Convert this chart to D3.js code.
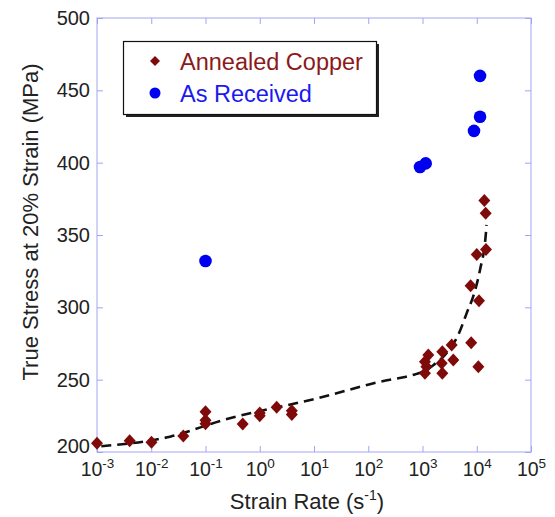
<!DOCTYPE html>
<html>
<head>
<meta charset="utf-8">
<script src="https://cdn.jsdelivr.net/npm/d3@7"></script>
<style>
  body { margin: 0; background: #fff; }
  svg { font-family: "Liberation Sans", Arial, sans-serif; }
</style>
</head>
<body>
<svg id="chart" width="555" height="517"></svg>
<script>
// annealed copper (diamonds)
var annealedRate = [0.001, 0.004, 0.0101, 0.039, 0.1, 0.1, 0.1, 0.485, 1.0, 1.0, 2.05, 3.9, 3.9,
  1110, 1280, 1110, 1180, 2320, 2260, 2320, 3450, 3700, 7900, 10700, 7700, 11000, 10000, 14800, 13800, 14600];
var annealedStress = [206, 207.8, 206.7, 211, 227.8, 222, 219.5, 219.4, 225, 227, 230.9, 228.5, 226,
  262.4, 267, 254.4, 259, 269.3, 261.3, 254.4, 274, 263.6, 275.5, 259, 315, 304.6, 336.6, 340, 373.8, 365];

// as received (circles)
var receivedRate = [0.1, 900, 1145, 8900, 11500, 11500];
var receivedStress = [332, 397, 399.5, 422, 431.7, 460];

// dashed trend line
var fitRate = [0.0012, 0.0222, 0.21, 11.2, 251, 500, 782, 1150, 1580, 2790, 4570, 6530, 9020, 11500, 14800, 15100];
var fitStress = [204, 210.6, 222, 237, 250, 252, 254, 256.5, 260, 268.5, 281, 296, 310, 326, 352, 357];

var xTicks = [1e-3, 1e-2, 1e-1, 1e0, 1e1, 1e2, 1e3, 1e4, 1e5];
var yTicks = [200, 250, 300, 350, 400, 450, 500];

var frameColor = "#a3a3f5";
var red = "#7f0a0a";
var blue = "#0000f0";

var svg = d3.select("#chart");
var pl = 97, pr = 531, pt = 18, pb = 452;

var x = d3.scaleLog().domain([1e-3, 1e5]).range([pl, pr]);
var y = d3.scaleLinear().domain([200, 500]).range([pb, pt]);

function styleAxis(g) {
	g.select(".domain").remove();
	g.selectAll(".tick line").attr("stroke", frameColor).attr("stroke-width", 1);
}

// frame
svg.append("rect")
	.attr("x", pl).attr("y", pt)
	.attr("width", pr - pl).attr("height", pb - pt)
	.attr("fill", "none").attr("stroke", frameColor).attr("stroke-width", 1);

// bottom axis with 10^n labels
var xb = svg.append("g")
	.attr("transform", "translate(0," + pb + ")")
	.call(d3.axisBottom(x).tickValues(xTicks).tickSize(-6).tickFormat(""))
	.call(styleAxis);

xb.selectAll(".tick text").remove();
xb.selectAll(".tick").append("text")
	.attr("y", 24)
	.attr("fill", "#222")
	.attr("text-anchor", "middle")
	.style("font-size", "19.5px")
	.each(function (d) {
		var t = d3.select(this);
		t.append("tspan").text("10");
		t.append("tspan")
			.attr("dy", -8)
			.style("font-size", "13.5px")
			.text(String(Math.round(Math.log10(d))));
	});

svg.append("g")
	.attr("transform", "translate(0," + pt + ")")
	.call(d3.axisTop(x).tickValues(xTicks).tickSize(-6).tickFormat(""))
	.call(styleAxis);

// left / right axes
svg.append("g")
	.attr("transform", "translate(" + pl + ",0)")
	.call(d3.axisLeft(y).tickValues(yTicks).tickSize(-6).tickPadding(7).tickFormat(d3.format("d")))
	.call(styleAxis)
	.selectAll("text")
	.attr("fill", "#222")
	.attr("y", function (d) { return d === 200 ? -6 : 0; })
	.style("font-size", "20px");

svg.append("g")
	.attr("transform", "translate(" + pr + ",0)")
	.call(d3.axisRight(y).tickValues(yTicks).tickSize(-6).tickFormat(""))
	.call(styleAxis);

// axis titles
svg.append("text")
	.attr("transform", "translate(38,222) rotate(-90)")
	.attr("text-anchor", "middle")
	.attr("fill", "#222")
	.style("font-size", "22px")
	.text("True Stress at 20% Strain (MPa)");

var xt = svg.append("text")
	.attr("x", 307)
	.attr("y", 509)
	.attr("text-anchor", "middle")
	.attr("fill", "#222")
	.style("font-size", "22px");
xt.append("tspan").text("Strain Rate (s");
xt.append("tspan").attr("dy", -9).style("font-size", "14px").text("-1");
xt.append("tspan").attr("dy", 9).text(")");

// trend line
var fitData = fitRate.map(function (r, i) { return [r, fitStress[i]]; });
var line = d3.line()
	.x(function (d) { return x(d[0]); })
	.y(function (d) { return y(d[1]); })
	.curve(d3.curveMonotoneX);

svg.append("path")
	.datum(fitData)
	.attr("d", line)
	.attr("fill", "none")
	.attr("stroke", "#111")
	.attr("stroke-width", 2.6)
	.attr("stroke-dasharray", "10,6");

// markers
var diamond = "M0,-6.5L6,0L0,6.5L-6,0Z";

svg.append("g").selectAll("path")
	.data(annealedRate.map(function (r, i) { return [r, annealedStress[i]]; }))
	.enter().append("path")
	.attr("d", diamond)
	.attr("transform", function (d) { return "translate(" + x(d[0]) + "," + y(d[1]) + ")"; })
	.attr("fill", red);

svg.append("g").selectAll("circle")
	.data(receivedRate.map(function (r, i) { return [r, receivedStress[i]]; }))
	.enter().append("circle")
	.attr("cx", function (d) { return x(d[0]); })
	.attr("cy", function (d) { return y(d[1]); })
	.attr("r", 6.3)
	.attr("fill", blue);

// legend
var lg = svg.append("g");
lg.append("rect")
	.attr("x", 126).attr("y", 44).attr("width", 253).attr("height", 73)
	.attr("fill", "#222");
lg.append("rect")
	.attr("x", 123.5).attr("y", 41.5).attr("width", 253).attr("height", 73)
	.attr("fill", "#fff").attr("stroke", "#111").attr("stroke-width", 1.2);

lg.append("path")
	.attr("d", "M0,-5L5,0L0,5L-5,0Z")
	.attr("transform", "translate(155,61)")
	.attr("fill", red);
lg.append("text")
	.attr("x", 180).attr("y", 70)
	.attr("fill", "#8b1a1a")
	.style("font-size", "23.5px")
	.text("Annealed Copper");

lg.append("circle")
	.attr("cx", 155).attr("cy", 93).attr("r", 5.5)
	.attr("fill", blue);
lg.append("text")
	.attr("x", 180).attr("y", 102)
	.attr("fill", "#1a1af0")
	.style("font-size", "23.5px")
	.text("As Received");
</script>
</body>
</html>
